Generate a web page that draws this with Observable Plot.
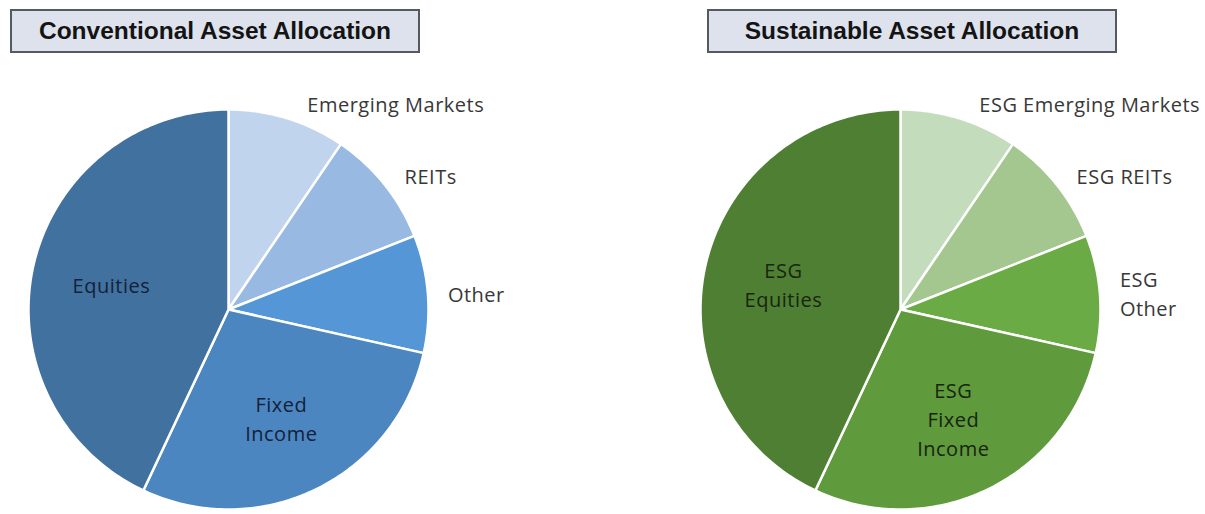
<!DOCTYPE html>
<html><head><meta charset="utf-8">
<script src="https://cdn.jsdelivr.net/npm/d3@7"></script>
<script src="https://cdn.jsdelivr.net/npm/@observablehq/plot@0.6"></script>
<style>
html,body{margin:0;padding:0;background:#fff;}
#wrap{position:relative;width:1205px;height:514px;overflow:hidden;}
.title{position:absolute;top:9px;height:44px;box-sizing:border-box;border:2px solid #555a62;background:#dde2ec;font:bold 24.5px "Liberation Sans",Arial,sans-serif;color:#141414;display:flex;align-items:center;justify-content:center;}
#chart{position:absolute;left:0;top:60px;}
#chart text{letter-spacing:0.5px;}
</style></head><body>
<div id="wrap">
  <div class="title" id="t0" style="left:10px;width:410px;"></div>
  <div class="title" id="t1" style="left:707px;width:410px;"></div>
  <div id="chart"></div>
</div>
<script>
// ---- data ----
const chartTitles = ["Conventional Asset Allocation", "Sustainable Asset Allocation"];
const categories = ["Emerging Markets", "REITs", "Other", "Fixed Income", "Equities"];
const conventionalValues = [9.5, 9.5, 9.5, 28.5, 43];
const sustainableValues = [9.5, 9.5, 9.5, 28.5, 43];
const conventionalLabels = ["Emerging Markets", "REITs", "Other", "Fixed\nIncome", "Equities"];
const sustainableLabels = ["ESG Emerging Markets", "ESG REITs", "ESG\nOther", "ESG\nFixed\nIncome", "ESG\nEquities"];
const conventionalColors = ["#c0d4ee", "#98b9e2", "#5596d6", "#4b86c0", "#41719f"];
const sustainableColors = ["#c3dcbb", "#a3c78e", "#6aab46", "#5f9a3c", "#4f7f33"];

// ---- layout ----
const W = 1205, H = 454, R = 200;       // px per unit radius
const cxPx = [228, 900], cyPx = 249;    // pie centres in px
const centers = cxPx.map(c => (c - cxPx[0]) / R);

document.getElementById("t0").textContent = chartTitles[0];
document.getElementById("t1").textContent = chartTitles[1];

const series = [
  {values: conventionalValues, labels: conventionalLabels, colors: conventionalColors, ink: "#14213a"},
  {values: sustainableValues, labels: sustainableLabels, colors: sustainableColors, ink: "#172510"}
];

const pts = [], labels = [], keys = [], keyColors = [];
series.forEach((s, si) => {
  const rows = categories.map((c, i) => ({key: chartTitles[si] + " · " + c, value: s.values[i], label: s.labels[i], color: s.colors[i]}));
  const arcs = d3.pie().sort(null).value(d => d.value)(rows);
  const cx = centers[si];
  arcs.forEach(a => {
    const k = a.data.key;
    keys.push(k); keyColors.push(a.data.color);
    const n = Math.max(2, Math.ceil((a.endAngle - a.startAngle) / (Math.PI / 180)));
    pts.push({key: k, x: cx, y: 0});
    for (let i = 0; i <= n; i++) {
      const t = a.startAngle + (a.endAngle - a.startAngle) * i / n;
      pts.push({key: k, x: cx + Math.sin(t), y: Math.cos(t)});
    }
    pts.push({key: k, x: cx, y: 0});
    const mid = (a.startAngle + a.endAngle) / 2;
    const pct = a.value / d3.sum(s.values);
    if (pct < 0.15) {
      labels.push({text: a.data.label, x: cx + Math.sin(mid) + 0.1, y: 1.08 * Math.cos(mid), inside: false, ink: "#383838"});
    } else {
      labels.push({text: a.data.label, x: cx + 0.6 * Math.sin(mid), y: 0.6 * Math.cos(mid), inside: true, ink: s.ink});
    }
  });
});

const chart = Plot.plot({
  width: W, height: H,
  marginLeft: 0, marginRight: 0, marginTop: 0, marginBottom: 0,
  x: {domain: [-cxPx[0] / R, (W - cxPx[0]) / R], axis: null},
  y: {domain: [-(H - cyPx) / R, cyPx / R], axis: null},
  color: {domain: keys, range: keyColors},
  style: {fontFamily: "'Open Sans', sans-serif", background: "transparent"},
  marks: [
    Plot.line(pts, {x: "x", y: "y", z: "key", fill: "key", stroke: "#ffffff", strokeWidth: 2.5, strokeLinejoin: "round", curve: "linear"}),
    Plot.text(labels.filter(d => !d.inside), {x: "x", y: "y", text: "text", textAnchor: "start", fill: "ink", fontSize: 20, lineHeight: 1.45}),
    Plot.text(labels.filter(d => d.inside), {x: "x", y: "y", text: "text", textAnchor: "middle", fill: "ink", fontSize: 20, lineHeight: 1.45})
  ]
});
document.getElementById("chart").appendChild(chart);
</script>
</body></html>
